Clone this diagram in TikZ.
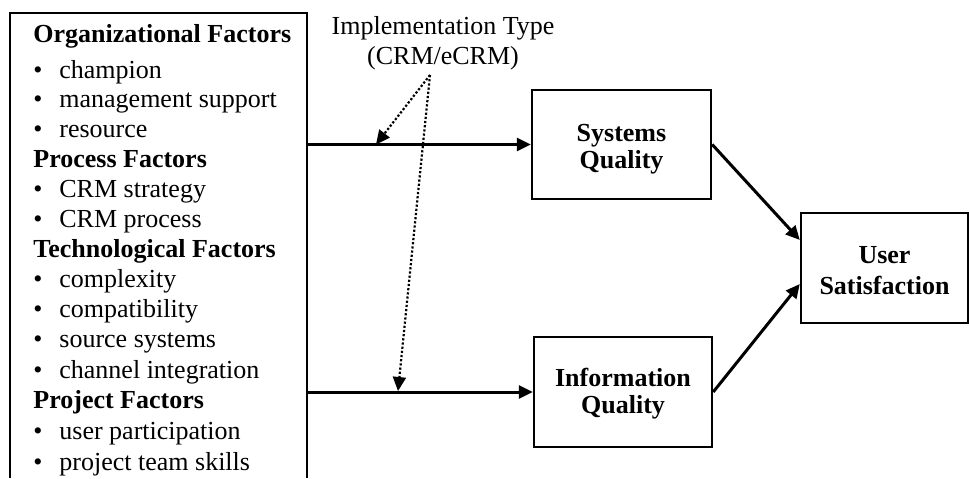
\documentclass[tikz,border=0pt]{standalone}
\usepackage{fontspec}
\setmainfont{Liberation Serif}
\usetikzlibrary{arrows.meta}
\newcommand{\padline}[1]{\rule{0pt}{#1}}

\begin{document}
\begin{tikzpicture}[x=.5pt,y=-.5pt,
    box/.style={draw,line width=1.2pt,font=\bfseries,align=center,inner sep=0},
    txt/.style={anchor=base west,inner sep=0},
    link/.style={line width=1.5pt,-{Triangle[length=7pt,width=6.5pt]}},
    moderate/.style={densely dotted,line width=1.1pt,-{Triangle[length=7pt,width=6.5pt]}}]
    \fontsize{13}{13.5}\selectfont
    \useasboundingbox (0,0) rectangle (970,478);
    % antecedents
    \draw[line width=1.2pt] (10,478) -- (10,13) -- (307,13) -- (307,478);
    \node[txt,font=\bfseries] (org) at (33,42) {Organizational Factors};
    \node[txt,font=\bfseries] (pro) at (33,167) {Process Factors};
    \node[txt,font=\bfseries] (tech) at (33,257) {Technological Factors};
    \node[txt,font=\bfseries] (proj) at (33,408) {Project Factors};
    \foreach \t/\y [count=\i] in {champion/78,management support/107,resource/137.5,
        CRM strategy/197,CRM process/227,complexity/287,compatibility/317,
        source systems/347,channel integration/378,user participation/439,
        project team skills/470}
    {
      \node[txt] (dot\i) at (33,\y) {\textbullet};
      \node[txt] (item\i) at (59,\y) {\t};
    }
    % success measures
    \node[box,minimum width=89.5pt,minimum height=54.5pt] (sq) at (621.5,144.5) {\padline{13.7pt}Systems\\Quality};
    \node[box,minimum width=89pt,minimum height=55pt] (iq) at (623,392) {\padline{11.2pt}Information\\Quality};
    \node[box,minimum width=83.5pt,minimum height=55pt] (us) at (884.5,268) {\padline{11.5pt}User\\[2pt]Satisfaction};
    \coordinate (a1) at (307,144.5);
    \coordinate (a2) at (307,392);
    \draw[link] (a1) -- (sq.west);
    \draw[link] (a2) -- (iq.west);
    \draw[link] (sq.east) -- ([yshift=14pt]us.west);
    \draw[link] (iq.east) -- ([yshift=-8pt]us.west);
    % moderator
    \node[anchor=north,inner sep=0,align=center,font=\fontsize{13}{15}\selectfont] (impl) at (443,16) {Implementation Type\\(CRM/eCRM)};
    \coordinate (it) at (430,75);
    \coordinate (m1) at (376,144.5);
    \coordinate (m2) at (398,391);
    \draw[moderate] (it) -- (m1);
    \draw[moderate] (it) -- (m2);
\end{tikzpicture}
\end{document}
